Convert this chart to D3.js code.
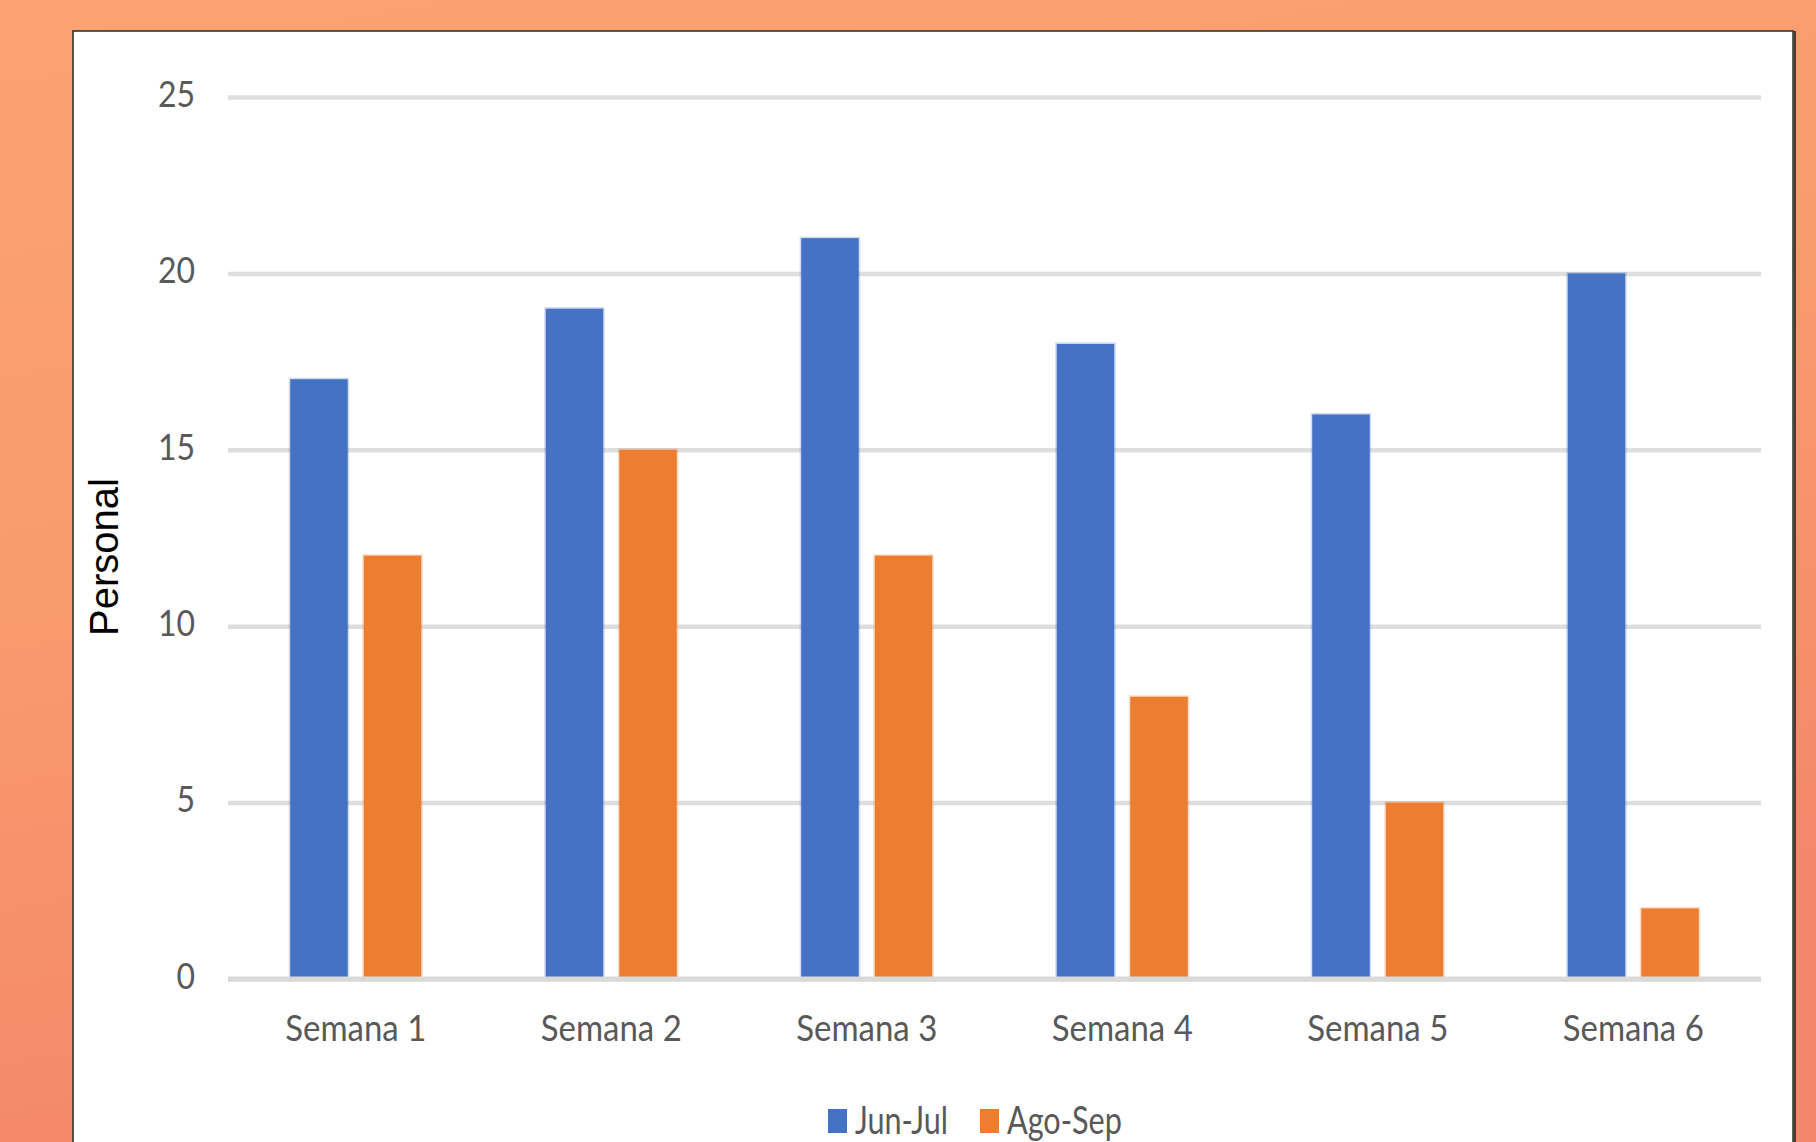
<!DOCTYPE html>
<html lang="es">
<head>
  <meta charset="UTF-8">
  <title>Personal por semana</title>
  <script src="https://d3js.org/d3.v7.min.js"></script>
  <style>
    body { margin: 0; overflow: hidden; }
    svg { display: block; }
    .tick text { font-family: Lato, "Open Sans", sans-serif; fill: #595959; }
  </style>
</head>
<body>
  <svg id="chart" width="1816" height="1142"></svg>

  <script>
    // datos
    const semanas = ["Semana 1", "Semana 2", "Semana 3", "Semana 4", "Semana 5", "Semana 6"];
    const series = ["Jun-Jul", "Ago-Sep"];
    const junJul = [17, 19, 21, 18, 16, 20];
    const agoSep = [12, 15, 12, 8, 5, 2];
    const yTicks = [0, 5, 10, 15, 20, 25];
    const colores = ["#4472C4", "#ED7D31"];

    const valores = [junJul, agoSep];
    const tabla = semanas.map((s, i) => ({
      semana: s,
      barras: series.map((k, j) => ({ serie: k, valor: valores[j][i], color: colores[j] }))
    }));

    const svg = d3.select("#chart");
    const W = +svg.attr("width"), H = +svg.attr("height");

    // fondo naranja
    const defs = svg.append("defs");
    const grad = defs.append("linearGradient")
      .attr("id", "fondo")
      .attr("x1", 0).attr("y1", 0).attr("x2", 0.3).attr("y2", 1);
    grad.append("stop").attr("offset", "0%").attr("stop-color", "#FBA373");
    grad.append("stop").attr("offset", "50%").attr("stop-color", "#F99A6D");
    grad.append("stop").attr("offset", "100%").attr("stop-color", "#F4866A");

    svg.append("rect").attr("width", W).attr("height", H).attr("fill", "url(#fondo)");

    // panel blanco
    const panel = { left: 73, top: 31, right: 1793 };
    svg.append("rect")
      .attr("x", panel.left).attr("y", panel.top)
      .attr("width", panel.right - panel.left).attr("height", H)
      .attr("fill", "#fff")
      .attr("stroke", "#2a2a2a").attr("stroke-width", 1.5);
    svg.append("line")
      .attr("x1", panel.right + 2).attr("x2", panel.right + 2)
      .attr("y1", panel.top).attr("y2", H)
      .attr("stroke", "#4d3a33").attr("stroke-width", 2);

    const plot = { left: 228, right: 1761, top: 97, bottom: 979 };

    const y = d3.scaleLinear().domain([0, 25]).range([plot.bottom, plot.top]);

    const x0 = d3.scaleBand()
      .domain(semanas)
      .range([plot.left, plot.right])
      .paddingInner(0.487)
      .paddingOuter(0.2435);

    const x1 = d3.scaleBand()
      .domain(series)
      .range([0, x0.bandwidth()])
      .paddingInner(0.218);

    // lineas de cuadricula + etiquetas del eje y
    const gy = svg.append("g")
      .attr("transform", `translate(${plot.left},0)`)
      .call(d3.axisLeft(y).tickValues(yTicks).tickSize(-(plot.right - plot.left)).tickPadding(33));
    gy.select(".domain").remove();
    gy.selectAll(".tick line")
      .attr("stroke", "#dedede")
      .attr("stroke-width", 4.5);
    gy.selectAll(".tick text")
      .style("font-size", "32px")
      .attr("dy", "0.26em")
      .attr("transform", "scale(1,1.12)");

    // barras
    const grupos = svg.append("g")
      .selectAll("g")
      .data(tabla)
      .join("g")
      .attr("transform", d => `translate(${x0(d.semana)},0)`);

    grupos.selectAll("rect")
      .data(d => d.barras)
      .join("rect")
      .attr("x", d => x1(d.serie))
      .attr("width", x1.bandwidth())
      .attr("y", d => y(d.valor))
      .attr("height", d => y(0) - y(d.valor))
      .attr("fill", d => d.color)
      .attr("stroke", d => d.color)
      .attr("stroke-opacity", 0.25)
      .attr("stroke-width", 3);

    // linea del eje x
    svg.append("line")
      .attr("x1", plot.left).attr("x2", plot.right)
      .attr("y1", y(0)).attr("y2", y(0))
      .attr("stroke", "#d9d9d9")
      .attr("stroke-width", 5);

    const gx = svg.append("g")
      .attr("transform", `translate(0,${plot.bottom})`)
      .call(d3.axisBottom(x0).tickSize(0));
    gx.select(".domain").remove();
    gx.selectAll(".tick text")
      .style("font-size", "33px")
      .attr("y", 0)
      .attr("dy", "0.33em")
      .attr("transform", "translate(0,50) scale(1,1.12)");

    // titulo eje y
    svg.append("text")
      .attr("transform", "translate(104,557) rotate(-90)")
      .attr("text-anchor", "middle")
      .attr("dominant-baseline", "central")
      .style("font-family", "'Liberation Sans', Arial, sans-serif")
      .style("font-size", "40px")
      .attr("fill", "#000")
      .text("Personal");

    // leyenda
    const leyendaX = [828, 980];
    const leyenda = svg.append("g")
      .selectAll("g")
      .data(series)
      .join("g")
      .attr("transform", (d, i) => `translate(${leyendaX[i]},1121)`);
    leyenda.append("rect")
      .attr("x", 0).attr("y", -12)
      .attr("width", 19).attr("height", 24)
      .attr("fill", (d, i) => colores[i]);
    leyenda.append("text")
      .attr("transform", "translate(27,0) scale(0.9,1.12)")
      .attr("dy", "0.34em")
      .style("font-family", "Lato, 'Open Sans', sans-serif")
      .style("font-size", "34px")
      .attr("fill", "#595959")
      .text(d => d);
  </script>
</body>
</html>
